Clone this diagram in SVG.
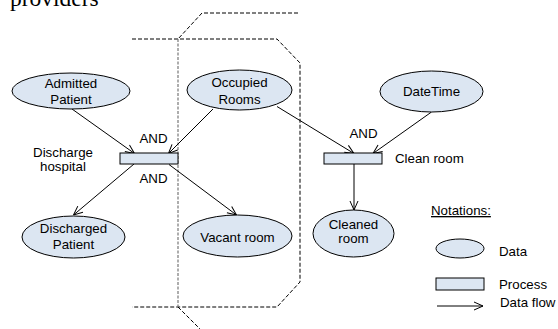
<svg xmlns="http://www.w3.org/2000/svg" width="558" height="329" viewBox="0 0 558 329">
<style>
text{font-family:"Liberation Sans",Arial,sans-serif;font-size:13.3px;fill:#000}
.c{text-anchor:middle}
.d{fill:#dce6f2;stroke:#000;stroke-width:1}
.f{stroke:#000;stroke-width:1;fill:none;marker-end:url(#ah)}
.ds{stroke:#000;stroke-width:1;fill:none;stroke-dasharray:4,2}
.dg{stroke:#777;stroke-width:1.2;fill:none;stroke-dasharray:3,1.5}
</style>
<defs>
<marker id="ah" viewBox="0 0 10 10" refX="10" refY="5" markerWidth="10" markerHeight="10" markerUnits="userSpaceOnUse" orient="auto">
<polyline points="1,1 10,5 1,9" fill="none" stroke="#000" stroke-width="1"/>
</marker>
</defs>
<rect width="558" height="329" fill="#fff"/>
<text x="10" y="6" style="font-family:'Liberation Serif','Times New Roman',serif;font-size:23.5px">providers</text>
<g id="boundaries">
<polyline class="ds" points="132,39 277,39 300,63 300,282 277,307 132,307"/>
<polyline class="ds" points="298,13 202,13 178,39"/>
<line class="dg" x1="178" y1="39" x2="178" y2="307"/>
<line class="ds" x1="178" y1="307" x2="200" y2="329"/>
</g>
<g id="connectors">
<line class="f" x1="72" y1="109" x2="134.5" y2="153.5"/>
<line class="f" x1="213" y1="109" x2="168.5" y2="153.5"/>
<line class="f" x1="277" y1="106.5" x2="354" y2="153.5"/>
<line class="f" x1="431.5" y1="112" x2="373" y2="153.5"/>
<line class="f" x1="354" y1="164" x2="354" y2="210"/>
<line class="f" x1="134" y1="164" x2="73.5" y2="215"/>
<line class="f" x1="169" y1="164.5" x2="236.5" y2="215"/>
</g>
<g id="admitted-patient">
<ellipse class="d" cx="71" cy="91" rx="59" ry="18"/>
<text class="c" x="71" y="88">Admitted</text>
<text class="c" x="71" y="104">Patient</text>
</g>
<g id="occupied-rooms">
<ellipse class="d" cx="239.5" cy="90" rx="52.5" ry="20"/>
<text class="c" x="239.5" y="87">Occupied</text>
<text class="c" x="239.5" y="104">Rooms</text>
</g>
<g id="datetime">
<ellipse class="d" cx="431.5" cy="91.5" rx="51.5" ry="20.5"/>
<text class="c" x="431.5" y="96">DateTime</text>
</g>
<g id="discharge-hospital">
<rect class="d" x="120" y="153" width="58" height="11"/>
<text class="c" x="153.5" y="143">AND</text>
<text class="c" x="153.5" y="183">AND</text>
<text class="c" x="63" y="157">Discharge</text>
<text class="c" x="63" y="171">hospital</text>
</g>
<g id="clean-room">
<rect class="d" x="324" y="153" width="58" height="11"/>
<text class="c" x="363.5" y="138">AND</text>
<text x="395" y="163">Clean room</text>
</g>
<g id="cleaned-room">
<ellipse class="d" cx="353.5" cy="233.5" rx="40.5" ry="23.5"/>
<text class="c" x="353.5" y="229">Cleaned</text>
<text class="c" x="353.5" y="243">room</text>
</g>
<g id="discharged-patient">
<ellipse class="d" cx="73.5" cy="237" rx="51.5" ry="21"/>
<text class="c" x="73.5" y="233">Discharged</text>
<text class="c" x="73.5" y="249">Patient</text>
</g>
<g id="vacant-room">
<ellipse class="d" cx="237.5" cy="236" rx="54.5" ry="21"/>
<text class="c" x="237.5" y="242">Vacant room</text>
</g>
<g id="legend">
<text x="431" y="215" text-decoration="underline">Notations:</text>
<ellipse class="d" cx="460" cy="248.5" rx="24" ry="9.5"/>
<text x="499" y="256">Data</text>
<rect class="d" x="436" y="278" width="48" height="12"/>
<text x="499" y="289">Process</text>
<line class="f" x1="437" y1="306" x2="483" y2="306"/>
<text x="500" y="307">Data flow</text>
</g>
</svg>
